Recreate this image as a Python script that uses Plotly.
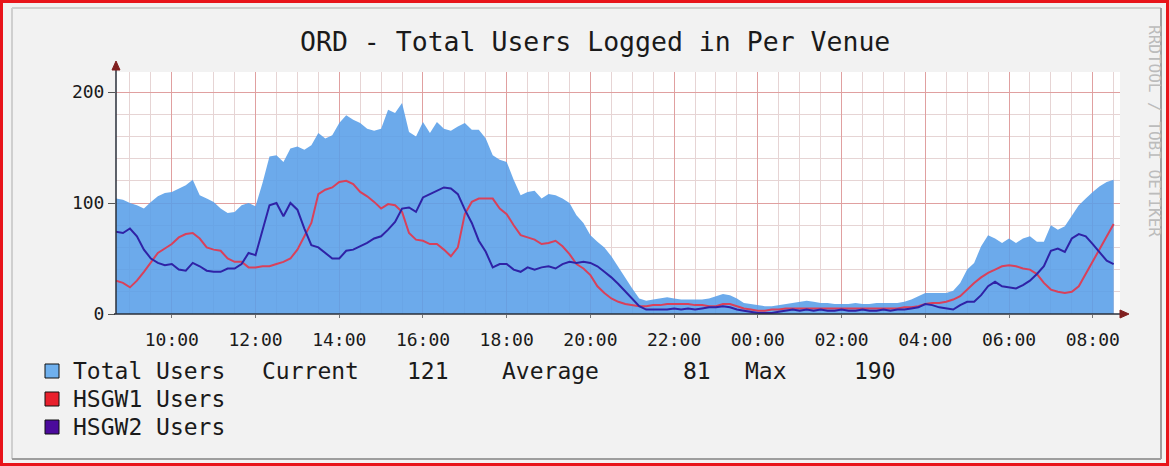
import plotly.graph_objects as go
import pandas as pd

# ---------------- data ----------------
title_text = "ORD - Total Users Logged in Per Venue"
start_time = "2016-05-10 08:40"
step = "10min"

total_users = [
    104, 103,
    100, 98, 95, 101, 106, 109,
    110, 113, 116, 121, 107, 104,
    101, 95, 91, 92, 98, 100,
    97, 118, 142, 143, 137, 149,
    151, 148, 152, 163, 158, 161,
    172, 179, 175, 172, 167, 165,
    167, 184, 181, 190, 164, 160,
    173, 163, 173, 167, 165, 169,
    172, 166, 166, 158, 143, 139,
    137, 121, 107, 110, 111, 104,
    108, 107, 104, 100, 89, 82,
    71, 65, 60, 52, 42, 32,
    23, 14, 12, 13, 14, 15,
    14, 13, 13, 13, 13, 14,
    16, 18, 17, 14, 10, 9,
    8, 7, 7, 8, 9, 10,
    11, 12, 11, 10, 10, 9,
    9, 9, 10, 9, 9, 10,
    10, 10, 10, 11, 13, 16,
    19, 19, 19, 19, 21, 28,
    40, 46, 61, 71, 68, 64,
    68, 64, 68, 70, 65, 65,
    80, 76, 79, 88, 98, 104,
    110, 115, 119, 121,
]

hsgw1_users = [
    30, 28,
    24, 30, 38, 47, 55, 59,
    63, 69, 72, 73, 68, 60,
    58, 57, 50, 47, 47, 42,
    42, 43, 43, 45, 47, 50,
    58, 70, 82, 108, 112, 114,
    119, 120, 117, 110, 106, 101,
    95, 99, 98, 92, 73, 67,
    66, 63, 63, 58, 52, 60,
    90, 101, 104, 104, 104, 95,
    90, 80, 71, 69, 67, 63,
    64, 66, 61, 54, 45, 41,
    35, 25, 19, 14, 11, 9,
    8, 7, 7, 8, 8, 9,
    9, 9, 9, 8, 8, 7,
    7, 9, 9, 7, 5, 4,
    3, 3, 4, 4, 5, 5,
    5, 5, 5, 5, 5, 5,
    5, 5, 5, 5, 5, 5,
    5, 5, 5, 6, 6, 7,
    9, 10, 10, 11, 13, 16,
    22, 28, 33, 37, 40, 43,
    44, 43, 41, 40, 36, 28,
    22, 20, 19, 20, 25, 36,
    48, 58, 70, 81,
]

hsgw2_users = [
    74, 73,
    77, 70, 58, 50, 46, 44,
    45, 40, 39, 46, 43, 39,
    38, 38, 41, 41, 45, 55,
    53, 75, 98, 100, 88, 100,
    94, 77, 62, 60, 55, 50,
    50, 57, 58, 61, 64, 68,
    70, 76, 83, 95, 96, 92,
    105, 108, 111, 114, 113, 108,
    94, 82, 66, 56, 42, 45,
    45, 40, 38, 42, 40, 42,
    43, 41, 45, 47, 46, 47,
    46, 43, 38, 33, 27, 20,
    14, 7, 4, 4, 4, 4,
    5, 4, 5, 4, 5, 6,
    6, 7, 6, 4, 3, 2,
    1, 1, 1, 2, 3, 4,
    3, 4, 3, 4, 3, 3,
    4, 3, 3, 4, 3, 3,
    4, 3, 4, 4, 5, 6,
    9, 8, 6, 5, 4, 8,
    11, 11, 17, 25, 29, 25,
    24, 23, 26, 30, 36, 43,
    57, 59, 56, 68, 72, 70,
    63, 55, 48, 45,
]

legend_labels = ["Total Users", "HSGW1 Users", "HSGW2 Users"]
stat_names = ["Current", "Average", "Max"]
stat_values = ["121", "81", "190"]
y_tick_vals = [0, 100, 200]
credit_text = "RRDTOOL / TOBI OETIKER"

# ---------------- geometry / style ----------------
W, H = 1169, 466
PL, PR, PT, PB = 116, 1120, 72, 314
PX_PER_HOUR = 41.86
Y_MAX = (PB - PT) / 1.11

def fx(px):
    return (px - PL) / (PR - PL)

def fy(py):
    return (PB - py) / (PB - PT)

FONT = "DejaVu Sans Mono"
BACK = "#f2f2f2"
AREA_FILL = "rgba(88,158,232,0.88)"
RED = "#d9405a"
BLUE = "#2f22a6"
MINOR_GRID = "#e6d4d4"
MAJOR_GRID = "#e0a0a0"
AXIS_COL = "#2a2f3a"
ARROW_COL = "#801f1f"

times = pd.date_range(start_time, periods=len(total_users), freq=step)
x0 = times[0]
x1 = x0 + pd.Timedelta(hours=(PR - PL) / PX_PER_HOUR)

fig = go.Figure()
fig.add_trace(go.Scatter(x=times, y=total_users, mode="lines", fill="tozeroy",
                         fillcolor=AREA_FILL, line=dict(width=0, color=AREA_FILL),
                         hoverinfo="skip", showlegend=False))
fig.add_trace(go.Scatter(x=times, y=hsgw1_users, mode="lines",
                         line=dict(width=2, color=RED), showlegend=False))
fig.add_trace(go.Scatter(x=times, y=hsgw2_users, mode="lines",
                         line=dict(width=2, color=BLUE), showlegend=False))

shapes = []
# outer red frame
shapes.append(dict(type="rect", xref="paper", yref="paper", x0=fx(1.5), x1=fx(1167.5),
                   y0=fy(1.5), y1=fy(464.5), line=dict(color="#e8141a", width=3), layer="above"))
# bevel
shapes.append(dict(type="line", xref="paper", yref="paper", x0=fx(12), x1=fx(1161),
                   y0=fy(8), y1=fy(8), line=dict(color="#cfcfcf", width=2)))
shapes.append(dict(type="line", xref="paper", yref="paper", x0=fx(12), x1=fx(12),
                   y0=fy(8), y1=fy(459), line=dict(color="#cfcfcf", width=2)))
shapes.append(dict(type="line", xref="paper", yref="paper", x0=fx(12), x1=fx(1161),
                   y0=fy(459), y1=fy(459), line=dict(color="#9e9e9e", width=2)))
shapes.append(dict(type="line", xref="paper", yref="paper", x0=fx(1161), x1=fx(1161),
                   y0=fy(8), y1=fy(459), line=dict(color="#9e9e9e", width=2)))
# axes
shapes.append(dict(type="line", xref="paper", yref="paper", x0=fx(PL), x1=fx(PL),
                   y0=fy(PB), y1=fy(66), line=dict(color=AXIS_COL, width=1.5), layer="above"))
shapes.append(dict(type="line", xref="paper", yref="paper", x0=fx(PL - 2), x1=fx(1124),
                   y0=fy(PB), y1=fy(PB), line=dict(color=AXIS_COL, width=1.5), layer="above"))
# arrows
def tri(pts):
    s = "M " + " L ".join(f"{fx(a):.5f},{fy(b):.5f}" for a, b in pts) + " Z"
    return s
shapes.append(dict(type="path", xref="paper", yref="paper",
                   path=tri([(112, 70), (120, 70), (116, 61)]),
                   fillcolor=ARROW_COL, line=dict(color=ARROW_COL, width=1), layer="above"))
shapes.append(dict(type="path", xref="paper", yref="paper",
                   path=tri([(1120, 310), (1120, 318), (1129, 314)]),
                   fillcolor=ARROW_COL, line=dict(color=ARROW_COL, width=1), layer="above"))

# legend boxes
box_cols = ["#6fb0ee", "#e8202c", "#4b0a9c"]
row_y = [371, 399, 427]
for col, yy in zip(box_cols, row_y):
    shapes.append(dict(type="rect", xref="paper", yref="paper", x0=fx(45), x1=fx(59),
                       y0=fy(yy - 7), y1=fy(yy + 7), fillcolor=col,
                       line=dict(color="#111111", width=1)))

annotations = []
annotations.append(dict(text=title_text, xref="paper", yref="paper", x=fx(595), y=fy(42),
                        xanchor="center", yanchor="middle", showarrow=False,
                        font=dict(family=FONT, size=26.5, color="#1a1a1a")))
for lab, yy in zip(legend_labels, row_y):
    annotations.append(dict(text=lab, xref="paper", yref="paper", x=fx(71), y=fy(yy),
                            xanchor="left", yanchor="middle", showarrow=False,
                            font=dict(family=FONT, size=23, color="#1a1a1a")))
stat_pos = [(260, "left"), (451, "right"), (500, "left"), (713, "right"), (743, "left"), (898, "right")]
stat_texts = [stat_names[0], stat_values[0], stat_names[1], stat_values[1], stat_names[2], stat_values[2]]
for (xx, anc), t in zip(stat_pos, stat_texts):
    annotations.append(dict(text=t, xref="paper", yref="paper", x=fx(xx), y=fy(row_y[0]),
                            xanchor=anc, yanchor="middle", showarrow=False,
                            font=dict(family=FONT, size=23, color="#1a1a1a")))
annotations.append(dict(text=credit_text, xref="paper", yref="paper", x=fx(1155), y=fy(131),
                        xanchor="center", yanchor="middle", showarrow=False, textangle=90,
                        font=dict(family=FONT, size=16, color="#bcbcbc")))

fig.update_layout(
    width=W, height=H,
    margin=dict(l=PL, r=W - PR, t=PT, b=H - PB, pad=0),
    paper_bgcolor=BACK, plot_bgcolor="#ffffff",
    shapes=shapes, annotations=annotations,
    showlegend=False,
    xaxis=dict(type="date", range=[x0, x1], tickformat="%H:%M",
               tick0="2016-05-10 00:00", dtick=2 * 3600 * 1000,
               showgrid=True, gridcolor=MAJOR_GRID, gridwidth=1,
               minor=dict(dtick=1800 * 1000, showgrid=True, gridcolor=MINOR_GRID, gridwidth=1),
               zeroline=False, showline=False, ticks="outside", ticklen=3, tickcolor="#777",
               ticklabelstandoff=6,
               tickfont=dict(family=FONT, size=18, color="#1a1a1a")),
    yaxis=dict(range=[0, Y_MAX], tickvals=y_tick_vals, ticktext=[str(v) for v in y_tick_vals],
               showgrid=True, gridcolor=MAJOR_GRID, gridwidth=1,
               minor=dict(dtick=20, showgrid=True, gridcolor=MINOR_GRID, gridwidth=1),
               zeroline=False, showline=False, ticks="outside", ticklen=7, tickcolor="#555",
               tickfont=dict(family=FONT, size=18, color="#1a1a1a")),
)

fig.write_html("out.html", config={"displayModeBar": False},
               post_script="document.body.style.margin='0px';document.body.style.overflow='hidden';")
